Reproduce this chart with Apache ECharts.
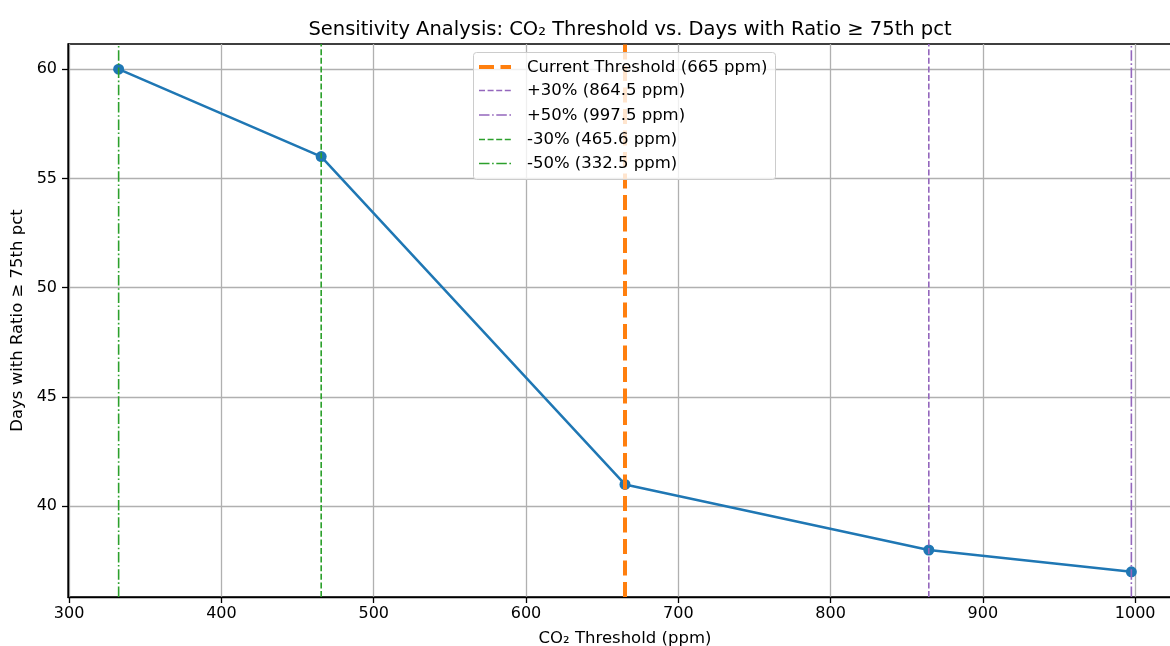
<!DOCTYPE html>
<html>
<head>
<meta charset="utf-8">
<script src="https://cdn.jsdelivr.net/npm/echarts@6/dist/echarts.min.js"></script>
<style>
  html, body { margin: 0; padding: 0; background: #fff; }
  #chart { width: 1170px; height: 646px; }
</style>
</head>
<body>
<div id="chart"></div>
<script>
// data
var thresholds = [332.5, 465.5, 665, 864.5, 997.5];
var days = [60, 56, 41, 38, 37];

// reference lines
var refValues = [665, 864.5, 997.5, 465.5, 332.5];
var refLabels = ['Current Threshold (665 ppm)', '+30% (864.5 ppm)', '+50% (997.5 ppm)', '-30% (465.6 ppm)', '-50% (332.5 ppm)'];
var refColors = ['#ff7f0e', '#9467bd', '#9467bd', '#2ca02c', '#2ca02c'];
var refWidths = [4, 1.6, 1.6, 1.6, 1.6];
var refDash = [[15, 6.5], [6, 2.6], [10.5, 2.6, 1.6, 2.6], [6, 2.6], [10.5, 2.6, 1.6, 2.6]];

var xTicks = [300, 400, 500, 600, 700, 800, 900, 1000];
var yTicks = [40, 45, 50, 55, 60];
var xMin = 299.25, xMax = 1030.75;
var yMin = 35.85, yMax = 61.15;

var font = 'DejaVu Sans';
var chart = echarts.init(document.getElementById('chart'));

var series = [{
    type: 'line',
    name: 'days',
    data: thresholds.map(function (t, k) { return [t, days[k]]; }),
    symbol: 'circle',
    symbolSize: 11,
    z: 3,
    itemStyle: { color: '#1f77b4' },
    lineStyle: { color: '#1f77b4', width: 2.5 }
}];
// vertical reference lines, drawn as two-point line series on top
for (var i = 0; i < refValues.length; i++) {
    series.push({
        type: 'line',
        name: refLabels[i],
        data: [[refValues[i], yMin], [refValues[i], yMax]],
        showSymbol: false,
        silent: true,
        z: 4,
        lineStyle: { color: refColors[i], width: refWidths[i], type: refDash[i] }
    });
}

// legend box drawn by hand so dash styles match
var legendGraphics = [{
    type: 'rect',
    left: 473, top: 52,
    shape: { width: 302, height: 127, r: 3 },
    style: { fill: 'rgba(255,255,255,0.8)', stroke: '#cccccc', lineWidth: 1 },
    z: 10
}];
var rowY = [67, 90.5, 115, 139.5, 163.5];
for (var j = 0; j < refLabels.length; j++) {
    legendGraphics.push({
        type: 'line',
        shape: { x1: 479, y1: rowY[j], x2: 511, y2: rowY[j] },
        style: { stroke: refColors[j], lineWidth: refWidths[j], lineDash: refDash[j] },
        z: 11
    });
    legendGraphics.push({
        type: 'text',
        left: 527, top: rowY[j] - 8,
        style: { text: refLabels[j], fill: '#000', font: '16.5px "' + font + '"' },
        z: 11
    });
}

var option = {
    animation: false,
    backgroundColor: '#fff',
    textStyle: { fontFamily: font },
    title: {
        text: 'Sensitivity Analysis: CO\u2082 Threshold vs. Days with Ratio \u2265 75th pct',
        left: 625, top: 15,
        textAlign: 'center',
        textStyle: { fontFamily: font, fontSize: 19.5, fontWeight: 'normal', color: '#000' }
    },
    grid: {
        left: 68, top: 44, width: 1114, height: 553,
        outerBoundsMode: 'none',
        containLabel: false,
        show: true, borderColor: '#000', borderWidth: 1.3, backgroundColor: 'transparent'
    },
    xAxis: {
        type: 'value',
        min: xMin, max: xMax,
        name: 'CO\u2082 Threshold (ppm)',
        nameLocation: 'middle', nameGap: 33,
        nameTextStyle: { fontFamily: font, fontSize: 16.5, color: '#000' },
        axisLine: { show: true, onZero: false, lineStyle: { color: '#000', width: 1.3 } },
        axisTick: { show: true, length: 6, customValues: xTicks, lineStyle: { color: '#000', width: 1.3 } },
        axisLabel: {
            customValues: xTicks, margin: 9, fontFamily: font, fontSize: 16, color: '#000',
            formatter: function (v) { return String(v); }
        },
        splitLine: { show: true, lineStyle: { color: '#b0b0b0', width: 1.3 } }
    },
    yAxis: {
        type: 'value',
        min: yMin, max: yMax,
        name: 'Days with Ratio \u2265 75th pct',
        nameLocation: 'middle', nameGap: 40,
        nameTextStyle: { fontFamily: font, fontSize: 16.5, color: '#000' },
        axisLine: { show: true, onZero: false, lineStyle: { color: '#000', width: 1.3 } },
        axisTick: { show: true, length: 6, customValues: yTicks, lineStyle: { color: '#000', width: 1.3 } },
        axisLabel: {
            customValues: yTicks, margin: 11, fontFamily: font, fontSize: 16, color: '#000',
            formatter: function (v) { return String(v); }
        },
        splitLine: { show: true, lineStyle: { color: '#b0b0b0', width: 1.3 } }
    },
    graphic: legendGraphics,
    series: series
};
chart.setOption(option);
</script>
</body>
</html>
